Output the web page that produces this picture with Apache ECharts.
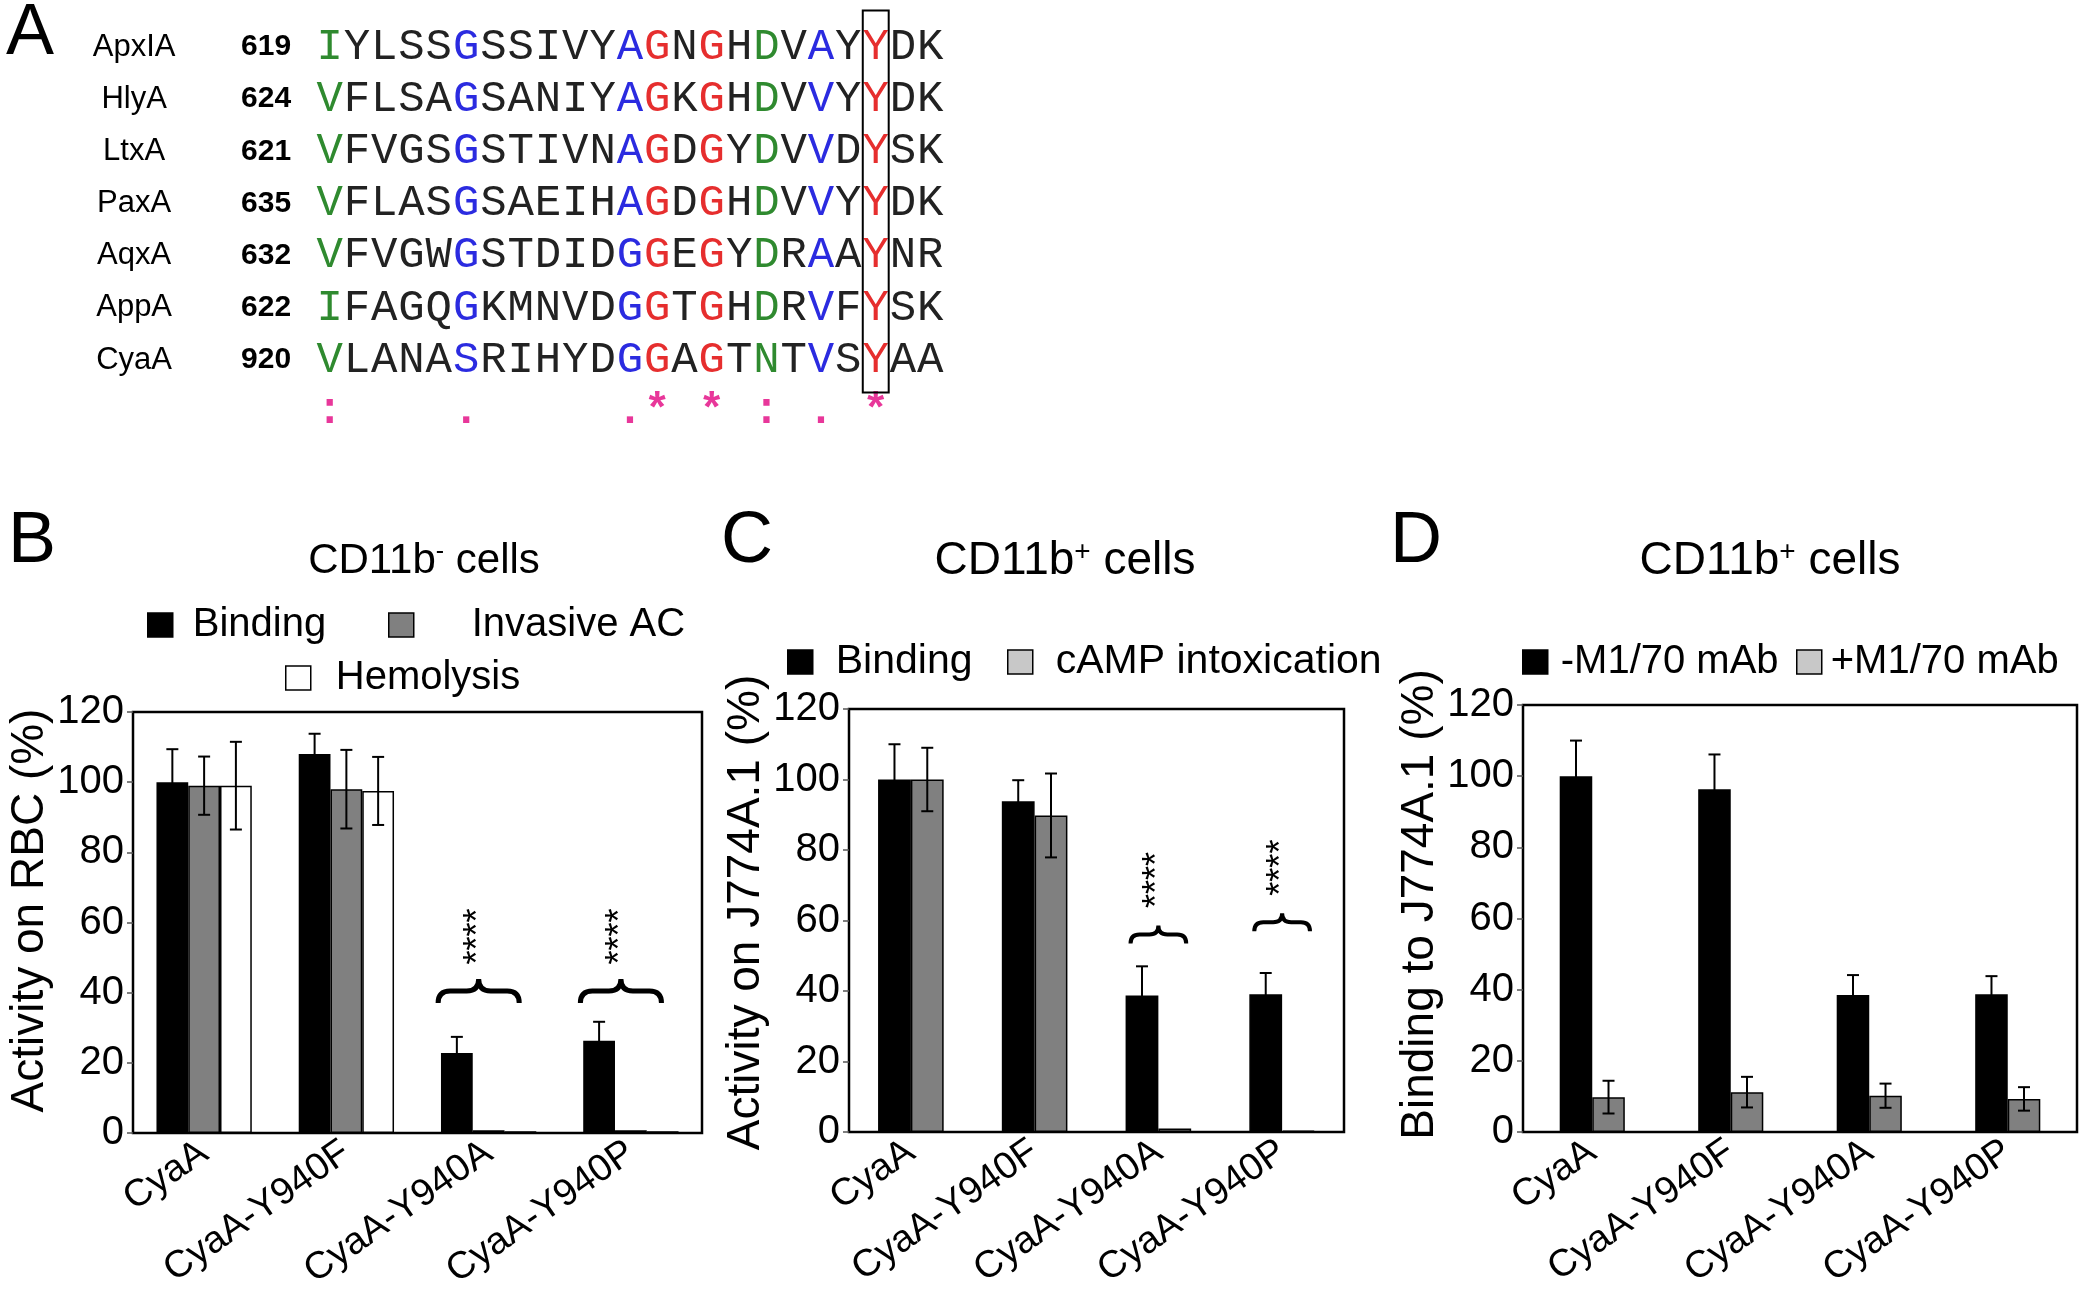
<!DOCTYPE html>
<html><head><meta charset="utf-8">
<script src="https://cdn.jsdelivr.net/npm/echarts@6/dist/echarts.min.js"></script>
<style>html,body{margin:0;padding:0;background:#fff}#c{width:2100px;height:1305px}</style>
</head><body><div id="c"></div>
<script>
// ---------------- DATA ----------------
// Panel A: alignment
const seqNames = ['ApxIA', 'HlyA', 'LtxA', 'PaxA', 'AqxA', 'AppA', 'CyaA'];
const seqStarts = ['619', '624', '621', '635', '632', '622', '920'];
const sequences = [
  'IYLSSGSSIVYAGNGHDVAYYDK',
  'VFLSAGSANIYAGKGHDVVYYDK',
  'VFVGSGSTIVNAGDGYDVVDYSK',
  'VFLASGSAEIHAGDGHDVVYYDK',
  'VFVGWGSTDIDGGEGYDRAAYNR',
  'IFAGQGKMNVDGGTGHDRVFYSK',
  'VLANASRIHYDGGAGTNTVSYAA'
];
const greenCols = [0, 16];
const blueCols = [5, 11, 18];
const redCols = [12, 14, 20];
const consCols = [0, 5, 11, 12, 14, 16, 18, 20];
const consSymbols = [':', '.', '.', '*', '*', ':', '.', '*'];
const boxedCol = 20;

// Panels B-D
const strains = ['CyaA', 'CyaA-Y940F', 'CyaA-Y940A', 'CyaA-Y940P'];
const yTickMax = 120, yTickStep = 20;

const bBinding = [100, 108, 22.8, 26.3];
const bBindingErr = [9.4, 5.8, 4.6, 5.4];
const bInvasive = [99, 98, 0.8, 0.8];
const bInvasiveErr = [8.3, 11.2, 0, 0];
const bHemolysis = [99, 97.5, 0.5, 0.5];
const bHemolysisErr = [12.5, 9.7, 0, 0];
const bSigCats = [2, 3];
const bBraceY = [40.5, 40.5];
const bStarsY = [56, 56];

const cBinding = [100, 93.8, 38.7, 39.1];
const cBindingErr = [10, 6, 8.3, 6];
const cCamp = [100, 89.8, 1.0, 0.4];
const cCampErr = [9, 11.9, 0, 0];
const cSigCats = [2, 3];
const cBraceY = [56, 59.5];
const cStarsY = [71.5, 75];

const dMinus = [100, 96.3, 38.5, 38.7];
const dMinusErr = [10, 9.8, 5.6, 5.1];
const dPlus = [9.8, 11.2, 10.2, 9.3];
const dPlusErr = [4.6, 4.3, 3.4, 3.3];

// ---------------- CHART ----------------
const FONT = '"Liberation Sans", Arial, sans-serif';
const MONO = '"Liberation Mono", "Courier New", monospace';

const C_GREEN = '#2f8a2f', C_BLUE = '#2b2be0', C_RED = '#e62e2e', C_BLACK = '#222', C_MAG = '#e8379a';
function colColor(i) {
  if (greenCols.includes(i)) return C_GREEN;
  if (blueCols.includes(i)) return C_BLUE;
  if (redCols.includes(i)) return C_RED;
  return C_BLACK;
}

const seqData = [], seqMeta = [];
sequences.forEach((s, r) => {
  for (let i = 0; i < s.length; i++) { seqData.push([i, r]); seqMeta.push({ ch: s[i], color: colColor(i) }); }
});
const NAME_X = -7.16, NUM_X = -1.41, CONS_ROW = sequences.length;

const series = [];
series.push({
  type: 'custom', xAxisIndex: 0, yAxisIndex: 0, silent: true, data: seqData,
  renderItem(params, api) {
    const p = api.coord([api.value(0), api.value(1)]);
    const m = seqMeta[params.dataIndex];
    return { type: 'text', x: p[0], y: p[1], style: { text: m.ch, fill: m.color, fontSize: 44, fontFamily: MONO, align: 'center', verticalAlign: 'middle' } };
  }
});
series.push({
  type: 'custom', xAxisIndex: 0, yAxisIndex: 0, silent: true, data: seqNames.map((n, r) => [NAME_X, r]),
  renderItem(params, api) {
    const p = api.coord([api.value(0), api.value(1)]);
    return { type: 'text', x: p[0], y: p[1], style: { text: seqNames[params.dataIndex], fill: '#000', fontSize: 31, fontFamily: FONT, align: 'center', verticalAlign: 'middle' } };
  }
});
series.push({
  type: 'custom', xAxisIndex: 0, yAxisIndex: 0, silent: true, data: seqStarts.map((n, r) => [NUM_X, r]),
  renderItem(params, api) {
    const p = api.coord([api.value(0), api.value(1)]);
    return { type: 'text', x: p[0], y: p[1], style: { text: seqStarts[params.dataIndex], fill: '#000', fontSize: 30, fontWeight: 'bold', fontFamily: FONT, align: 'right', verticalAlign: 'middle' } };
  }
});
series.push({
  type: 'custom', xAxisIndex: 0, yAxisIndex: 0, silent: true, data: consCols.map(c => [c, CONS_ROW]),
  renderItem(params, api) {
    const p = api.coord([api.value(0), api.value(1)]);
    return { type: 'text', x: p[0], y: p[1], style: { text: consSymbols[params.dataIndex], fill: C_MAG, fontSize: 44, fontWeight: 'bold', fontFamily: MONO, align: 'center', verticalAlign: 'middle' } };
  }
});
series.push({
  type: 'custom', xAxisIndex: 0, yAxisIndex: 0, silent: true, data: [[boxedCol, 0]],
  renderItem(params, api) {
    const c = api.value(0);
    const p1 = api.coord([c - 0.47, -0.70]);
    const p2 = api.coord([c + 0.48, sequences.length - 1 + 0.62]);
    return { type: 'rect', shape: { x: p1[0], y: p1[1], width: p2[0] - p1[0], height: p2[1] - p1[1] }, style: { fill: 'none', stroke: '#000', lineWidth: 2 } };
  }
});

function barSeries(name, g, vals, color, gap) {
  return {
    name, type: 'bar', xAxisIndex: g, yAxisIndex: g, data: vals, barGap: '0%', barCategoryGap: gap,
    itemStyle: { color, borderColor: '#000', borderWidth: 1.5 }, z: 2
  };
}
function errSeries(g, vals, errs, k, n, gapFrac) {
  return {
    type: 'custom', xAxisIndex: g, yAxisIndex: g, z: 5, silent: true,
    data: vals.map((v, i) => [i, v, errs[i]]),
    renderItem(params, api) {
      const e = api.value(2);
      if (!(e > 0)) return null;
      const c = api.value(0), v = api.value(1);
      const band = api.size([1, 0])[0];
      const gw = band * (1 - gapFrac), w = gw / n;
      const x = api.coord([c, v])[0] - gw / 2 + w * (k + 0.5);
      const yt = api.coord([c, v + e])[1], yb = api.coord([c, Math.max(v - e, 0)])[1];
      const cap = 6, st = { stroke: '#000', lineWidth: 2 };
      return { type: 'group', children: [
        { type: 'line', shape: { x1: x, y1: yt, x2: x, y2: yb }, style: st },
        { type: 'line', shape: { x1: x - cap, y1: yt, x2: x + cap, y2: yt }, style: st },
        { type: 'line', shape: { x1: x - cap, y1: yb, x2: x + cap, y2: yb }, style: st }
      ] };
    }
  };
}
function sigSeries(g, cats, braceY, starsY, wFrac, h, lw, fs, dxFrac) {
  return {
    type: 'custom', xAxisIndex: g, yAxisIndex: g, z: 6, silent: true,
    data: cats.map((c, i) => [c, braceY[i], starsY[i]]),
    renderItem(params, api) {
      const c = api.value(0);
      const band = api.size([1, 0])[0];
      const dx = band * dxFrac;
      const pb = api.coord([c, api.value(1)]);
      const ps = api.coord([c, api.value(2)]);
      const w = band * wFrac, r = h / 2, cx = pb[0] + dx, cy = pb[1];
      const L = cx - w / 2, R = cx + w / 2;
      const d = `M${L},${cy + r} Q${L},${cy} ${L + r},${cy} L${cx - r},${cy} Q${cx},${cy} ${cx},${cy - r} Q${cx},${cy} ${cx + r},${cy} L${R - r},${cy} Q${R},${cy} ${R},${cy + r}`;
      return { type: 'group', children: [
        { type: 'path', shape: { pathData: d }, style: { stroke: '#000', fill: 'none', lineWidth: lw } },
        { type: 'text', x: ps[0] + dx, y: ps[1], rotation: Math.PI / 2, style: { text: '****', fontSize: fs, fontFamily: FONT, fill: '#000', align: 'center', verticalAlign: 'middle' } }
      ] };
    }
  };
}

const GAP_B = 0.33, GAP_C = 0.47, GAP_D = 0.53;
const pct = f => Math.round(f * 100) + '%';
series.push(barSeries('Binding', 1, bBinding, '#000', pct(GAP_B)));
series.push(barSeries('Invasive AC', 1, bInvasive, '#808080', pct(GAP_B)));
series.push(barSeries('Hemolysis', 1, bHemolysis, '#fff', pct(GAP_B)));
series.push(errSeries(1, bBinding, bBindingErr, 0, 3, GAP_B));
series.push(errSeries(1, bInvasive, bInvasiveErr, 1, 3, GAP_B));
series.push(errSeries(1, bHemolysis, bHemolysisErr, 2, 3, GAP_B));
series.push(sigSeries(1, bSigCats, bBraceY, bStarsY, 0.57, 24, 5, 36, -0.07));

series.push(barSeries('Binding', 2, cBinding, '#000', pct(GAP_C)));
series.push(barSeries('cAMP intoxication', 2, cCamp, '#808080', pct(GAP_C)));
series.push(errSeries(2, cBinding, cBindingErr, 0, 2, GAP_C));
series.push(errSeries(2, cCamp, cCampErr, 1, 2, GAP_C));
series.push(sigSeries(2, cSigCats, cBraceY, cStarsY, 0.45, 18, 4, 36, 0));

series.push(barSeries('-M1/70 mAb', 3, dMinus, '#000', pct(GAP_D)));
series.push(barSeries('+M1/70 mAb', 3, dPlus, '#808080', pct(GAP_D)));
series.push(errSeries(3, dMinus, dMinusErr, 0, 2, GAP_D));
series.push(errSeries(3, dPlus, dPlusErr, 1, 2, GAP_D));

function catAxis(g) {
  return { gridIndex: g, type: 'category', data: strains,
    axisTick: { show: false }, axisLine: { show: false }, splitLine: { show: false },
    axisLabel: { interval: 0, rotate: 35, fontSize: 38, color: '#000', fontFamily: FONT, margin: 16 } };
}
function valAxis(g, name, gap, shift) {
  return { gridIndex: g, type: 'value', min: 0, max: yTickMax, interval: yTickStep,
    axisLine: { show: false }, splitLine: { show: false },
    axisTick: { show: true, length: 6, lineStyle: { color: '#555', width: 1.5 } },
    axisLabel: { fontSize: 40, color: '#000', margin: 9, fontFamily: FONT },
    name, nameLocation: 'middle', nameGap: gap,
    nameTextStyle: { fontSize: 46, color: '#000', fontFamily: FONT, padding: [0, 0, 0, shift] } };
}
const boxed = { show: true, borderColor: '#000', borderWidth: 2.5, backgroundColor: 'transparent' };
const titleStyle = (fs) => ({ fontSize: fs, fontWeight: 'normal', color: '#000', fontFamily: FONT });
function panelTitle(text, x, y, fs) {
  const rich = { m: { fontSize: fs, fontFamily: FONT, color: '#000' }, s: { fontSize: Math.round(fs * 0.6), fontFamily: FONT, color: '#000', verticalAlign: 'top' } };
  return { text, left: x, top: y, textAlign: 'center', textVerticalAlign: 'middle', padding: 0, textStyle: Object.assign(titleStyle(fs), { rich }) };
}
function letter(t, x, y) {
  return { text: t, left: x, top: y, textAlign: 'center', textVerticalAlign: 'middle', padding: 0, textStyle: titleStyle(72) };
}
const LH = 50;
function legendItem(name, fill, iconLeft, centerY, gap, fs) {
  return {
    data: [{ name, itemStyle: { color: fill, borderColor: '#000', borderWidth: 1.5 } }],
    left: iconLeft, top: centerY - LH / 2, itemWidth: 25, itemHeight: 24, icon: 'rect', selectedMode: false, padding: 0,
    textStyle: { fontSize: fs, color: '#000', fontFamily: FONT, lineHeight: LH, padding: [0, 0, 0, gap - 5] }
  };
}

const option = {
  backgroundColor: '#fff',
  animation: false,
  title: [
    letter('A', 30, 34), letter('B', 32, 542), letter('C', 747, 542), letter('D', 1416, 542),
    panelTitle('{m|CD11b}{s|-}{m| cells}', 424, 561, 42),
    panelTitle('{m|CD11b}{s|+}{m| cells}', 1065, 561, 46),
    panelTitle('{m|CD11b}{s|+}{m| cells}', 1770, 561, 46)
  ],
  legend: [
    legendItem('Binding', '#000', 147, 625, 20, 40),
    legendItem('Invasive AC', '#808080', 388, 625, 58, 40),
    legendItem('Hemolysis', '#fff', 285, 678, 25, 40),
    legendItem('Binding', '#000', 787, 662, 23, 41),
    legendItem('cAMP intoxication', '#c8c8c8', 1007, 662, 23, 41),
    legendItem('-M1/70 mAb', '#000', 1522, 662, 13, 40),
    legendItem('+M1/70 mAb', '#c8c8c8', 1796, 662, 9, 40)
  ],
  grid: [
    { left: 2, top: 5.3, width: 955.5, height: 448.7 },
    Object.assign({ left: 133, top: 712, width: 569, height: 421 }, boxed),
    Object.assign({ left: 849, top: 709, width: 495, height: 423 }, boxed),
    Object.assign({ left: 1523, top: 705, width: 554, height: 427 }, boxed)
  ],
  xAxis: [
    { gridIndex: 0, type: 'value', min: -12, max: 23, show: false },
    catAxis(1), catAxis(2), catAxis(3)
  ],
  yAxis: [
    { gridIndex: 0, type: 'value', min: -0.8, max: 7.8, inverse: true, show: false },
    valAxis(1, 'Activity on RBC (%)', 50, 24),
    valAxis(2, 'Activity on J774A.1 (%)', 61, 16),
    valAxis(3, 'Binding to J774A.1 (%)', 45, 28)
  ],
  series
};
const chart = echarts.init(document.getElementById('c'), null, { renderer: 'canvas' });
chart.setOption(option);
</script></body></html>
